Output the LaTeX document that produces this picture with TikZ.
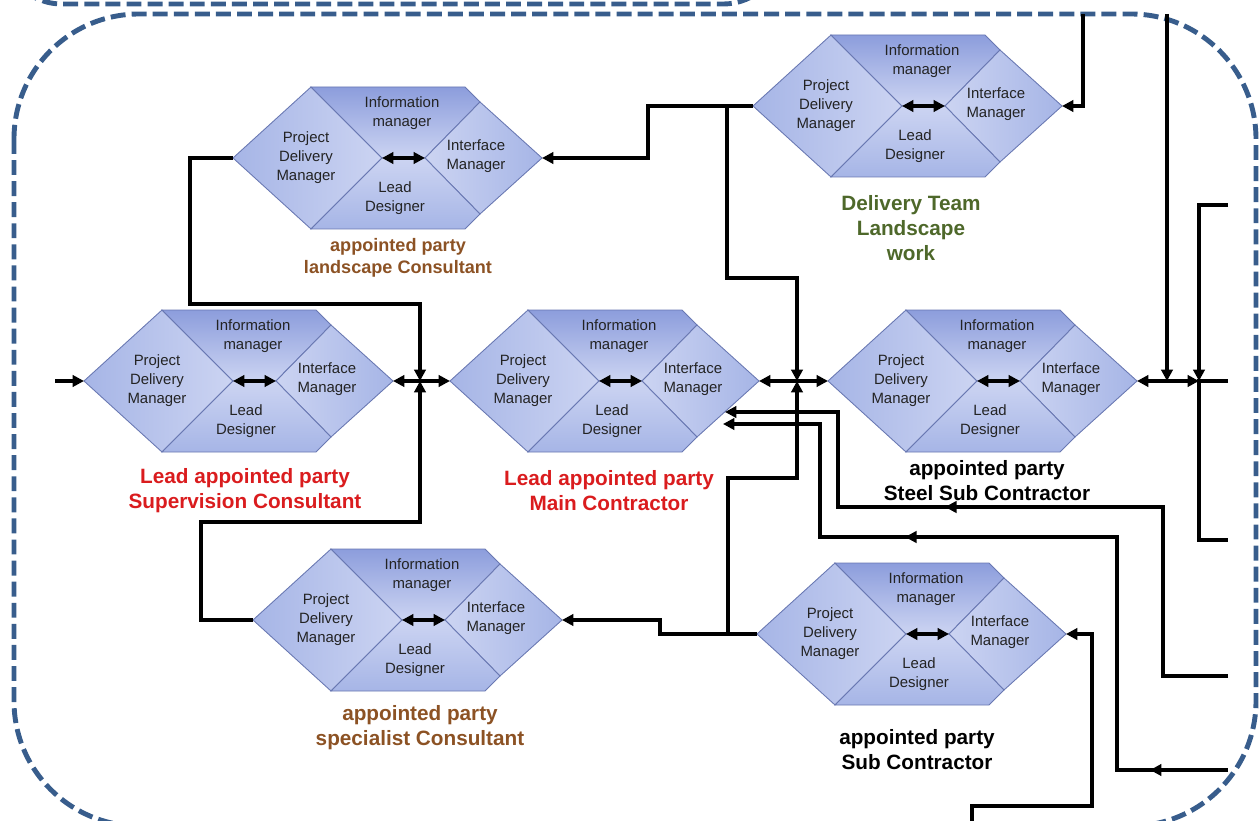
\documentclass[tikz,border=0pt]{standalone}
\usepackage{fontspec}
\setmainfont{Liberation Sans}
\usetikzlibrary{arrows.meta}
\usetikzlibrary{decorations.markings}

\definecolor{hexdark}{RGB}{140,157,220}
\definecolor{hexmid}{RGB}{166,181,230}
\definecolor{hexlight}{RGB}{204,212,242}
\definecolor{hexline}{RGB}{105,120,178}
\definecolor{rolegray}{RGB}{35,35,35}
\definecolor{borderblue}{RGB}{56,93,140}
\definecolor{leadred}{RGB}{218,28,30}
\definecolor{partybrown}{RGB}{140,82,36}
\definecolor{teamgreen}{RGB}{78,104,42}

\begin{document}
\begin{tikzpicture}[x=0.02cm,y=-0.02cm,
	>={Triangle[length=6.5pt,width=6.5pt]},
	link/.style={line width=2.1pt},
	inner/.style={line width=2.2pt,{Triangle[length=6.5pt,width=6.5pt]}-{Triangle[length=6.5pt,width=6.5pt]}},
	piece/.style={draw=hexline,line width=0.5pt},
	role/.style={align=center,inner sep=0pt,text=rolegray,font=\fontsize{8.5}{10.8}\selectfont},
	team/.style={align=center,inner sep=0pt,font=\bfseries\fontsize{11.8}{14.2}\selectfont},
	teamsmall/.style={align=center,inner sep=0pt,font=\bfseries\fontsize{10.3}{12.5}\selectfont},
	border/.style={draw=borderblue,line width=2.8pt,dash pattern=on 8.5pt off 3.5pt},
	midarrow/.style={postaction={decorate,decoration={markings,mark=at position #1 with {\arrow{>}}}}}]
	\useasboundingbox (0,0) rectangle (1259,821);
	\clip (0,0) rectangle (1259,821);
	\draw[border,rounded corners=1.2cm] (2,-400) rectangle (783,4);			% upper group
	\draw[border,rounded corners=2.5cm] (14,14) rectangle (1256,826);		% main group
	% teams
	\foreach \n/\cx/\cy in {lc/403/158,dt/923/106,sc/254/381,mc/620/381,ss/998/381,sp/423/620,sb/927/634}{
		\begin{scope}[shift={(\cx,\cy)}]
			\path[piece,left color=hexmid,right color=hexlight] (-170,0) -- (-92,-71) -- (-21,0) -- (-92,71) -- cycle;
			\path[piece,top color=hexdark,bottom color=hexlight] (-92,-71) -- (62,-71) -- (77,-56) -- (22,0) -- (-21,0) -- cycle;
			\path[piece,left color=hexlight,right color=hexmid] (22,0) -- (77,-56) -- (139,0) -- (77,56) -- cycle;
			\path[piece,top color=hexlight,bottom color=hexmid] (-21,0) -- (22,0) -- (77,56) -- (62,71) -- (-92,71) -- cycle;
			\coordinate (\n-l) at (-170,0);
			\coordinate (\n-r) at (139,0);
			\coordinate (\n-c1) at (-21,0);
			\coordinate (\n-c2) at (22,0);
			\node[role] (\n-im) at (-1,-45) {Information\\manager};
			\node[role] (\n-pdm) at (-97,0) {Project\\Delivery\\Manager};
			\node[role] (\n-ifm) at (73,-2) {Interface\\Manager};
			\node[role] (\n-ld) at (-8,40) {Lead\\Designer};
			\draw[inner] (\n-c1) -- (\n-c2);
		\end{scope}
	}
	% labels
	\node[teamsmall,text=partybrown] (lc-lbl) at (398,258) {appointed party\\landscape Consultant};
	\node[team,text=teamgreen] (dt-lbl) at (911,228) {Delivery Team\\Landscape\\work};
	\node[team,text=leadred] (sc-lbl) at (245,491) {Lead appointed party\\Supervision Consultant};
	\node[team,text=leadred] (mc-lbl) at (609,491) {Lead appointed party\\Main Contractor};
	\node[team] (ss-lbl) at (987,481) {appointed party\\Steel Sub Contractor};
	\node[team,text=partybrown] (sp-lbl) at (420,728) {appointed party\\specialist Consultant};
	\node[team] (sb-lbl) at (917,750) {appointed party\\Sub Contractor};
	% junctions and free ends
	\coordinate (j1) at (420,381);
	\coordinate (j2) at (797,381);
	\coordinate (j3) at (1167,381);
	\coordinate (j4) at (1199,381);
	\coordinate (in-w) at (55,381);
	\coordinate (dt-b) at (727,106);
	\coordinate (sb-b) at (728,634);
	\coordinate (mc-e1) at (725,412);
	\coordinate (mc-e2) at (723,424);
	\coordinate (top-1) at (1083,14);
	\coordinate (top-2) at (1167,14);
	\coordinate (rt-0) at (1228,205);
	\coordinate (rt-3) at (1228,381);
	\coordinate (rt-4) at (1228,540);
	\coordinate (rt-1) at (1228,676);
	\coordinate (rt-2) at (1228,770);
	\coordinate (bot-1) at (972,826);
	% connectors
	\draw[link,->] (in-w) -- (sc-l);
	\draw[link,<->] (sc-r) -- (mc-l);
	\draw[link,->] (lc-l) -| (190,304) -| (j1);
	\draw[link,->] (sp-l) -| (201,522) -| (j1);
	\draw[link,->] (dt-l) -| (648,158) -- (lc-r);
	\draw[link,->] (dt-b) |- (797,278) -- (j2);
	\draw[link,<->] (mc-r) -- (ss-l);
	\draw[link,->] (sb-l) -| (660,620) -- (sp-r);
	\draw[link,->] (sb-b) |- (797,478) -- (j2);
	\draw[link,->,midarrow=9.04cm] (rt-1) -| (1163,507) -| (838,412) -- (mc-e1);
	\draw[link,->,midarrow=1.56cm,midarrow=11.12cm] (rt-2) -| (1117,537) -| (820,424) -- (mc-e2);
	\draw[link,->] (top-1) |- (dt-r);
	\draw[link,->] (top-2) -- (j3);
	\draw[link,<->] (ss-r) -- (j4);
	\draw[link,->] (rt-0) -| (j4);
	\draw[link] (rt-3) -- (j4) |- (rt-4);
	\draw[link,->] (bot-1) |- (1092,806) |- (sb-r);
\end{tikzpicture}
\end{document}
